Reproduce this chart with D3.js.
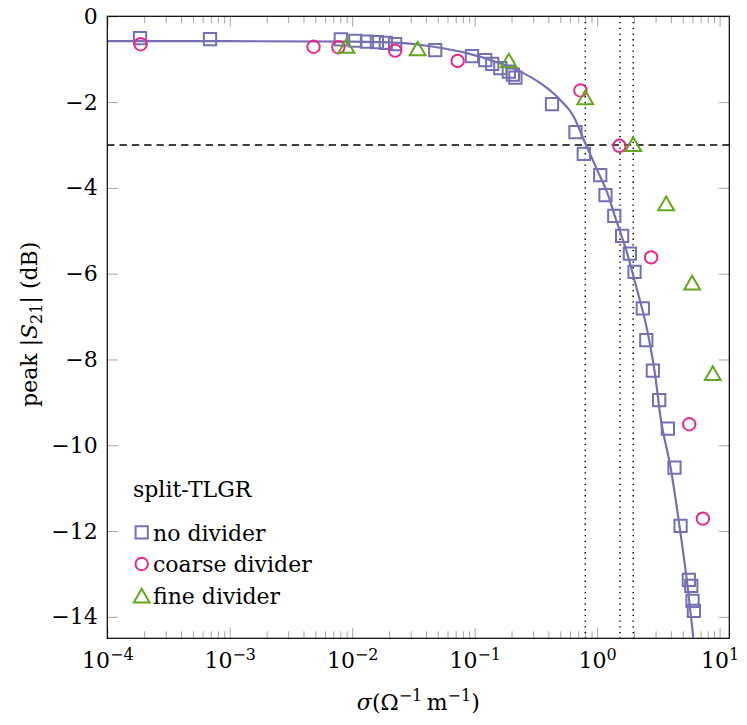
<!DOCTYPE html>
<html>
<head>
<meta charset="utf-8">
<script src="https://cdn.jsdelivr.net/npm/d3@7"></script>
<style>
body { margin: 0; background: #fff; }
svg text { font-family: "DejaVu Serif", serif; fill: #000; }
</style>
</head>
<body>
<div id="chart"></div>
<script>
// values
var seriesNames = ['no divider', 'coarse divider', 'fine divider'];
var seriesColors = ['#7570b3', '#e7298a', '#66a61e'];
var legendTitle = 'split-TLGR';

var noDivSigma = [1.85e-4, 6.9e-4, 8.07e-3, 0.0106, 0.0132, 0.0159, 0.0188, 0.0224, 0.0476, 0.095,
	0.122, 0.139, 0.162, 0.19, 0.205, 0.215, 0.428, 0.665, 0.778, 1.06, 1.17, 1.38, 1.60, 1.85,
	2.02, 2.36, 2.52, 2.85, 3.21, 3.78, 4.28, 4.80, 5.61, 5.87, 6.01, 6.17];
var noDivDb = [-0.51, -0.53, -0.54, -0.57, -0.59, -0.60, -0.62, -0.65, -0.79, -0.93,
	-1.02, -1.11, -1.21, -1.29, -1.36, -1.43, -2.05, -2.70, -3.21, -3.70, -4.17, -4.65, -5.12, -5.53,
	-5.96, -6.81, -7.55, -8.26, -8.95, -9.61, -10.52, -11.88, -13.14, -13.28, -13.63, -13.86];

var coarseSigma = [1.87e-4, 4.83e-3, 7.7e-3, 0.0224, 0.0726, 0.73, 1.52, 2.76, 5.65, 7.3];
var coarseDb = [-0.65, -0.71, -0.72, -0.80, -1.04, -1.73, -3.02, -5.62, -9.51, -11.71];

var fineSigma = [8.97e-3, 0.0342, 0.19, 0.80, 1.97, 3.66, 5.97, 8.8];
var fineDb = [-0.69, -0.75, -1.03, -1.89, -2.98, -4.36, -6.21, -8.32];

// fitted curve, sampled along the drawn line
var fitSigma = [1e-4, 1e-3, 0.01, 0.0245, 0.046, 0.0866, 0.162, 0.236, 0.344, 0.50, 0.644,
	0.80, 1.0, 1.24, 1.37, 1.76, 2.12, 2.56, 2.99, 3.29, 3.97, 4.80, 5.44, 6.10];
var fitDb = [-0.58, -0.58, -0.59, -0.62, -0.71, -0.86, -1.10, -1.29, -1.56, -1.95, -2.34,
	-2.96, -3.58, -4.20, -4.59, -5.53, -6.38, -7.31, -8.40, -9.34, -10.50, -12.06, -13.22, -14.48];

// -3 dB line and the sigma where each series crosses it
var refDb = [-3];
var refSigma = [0.8, 1.54, 1.97];

var xTickExp = [-4, -3, -2, -1, 0, 1];
var yTicks = [0, -2, -4, -6, -8, -10, -12, -14];

var width = 747;
var height = 725;
var margin = {top: 16.3, right: 17.7, bottom: 86.7, left: 107.3};
var plotW = width - margin.left - margin.right;
var plotH = height - margin.top - margin.bottom;

var x = d3.scaleLog().domain([1e-4, 12]).range([0, plotW]);
var y = d3.scaleLinear().domain([-14.5, 0]).range([plotH, 0]);

var svg = d3.select('#chart')
	.append('svg')
	.attr('width', width)
	.attr('height', height)
	.append('g')
	.attr('transform', 'translate(' + margin.left + ',' + margin.top + ')');

svg.append('clipPath').attr('id', 'clip')
	.append('rect').attr('width', plotW).attr('height', plotH);

// ticks
var majorX = xTickExp.map(function(e){ return Math.pow(10, e); });
var minorX = [];
xTickExp.forEach(function(e){
	for (var m = 2; m <= 9; m++) {
		var v = m * Math.pow(10, e);
		if (v < 12) minorX.push(v);
	}
});

function styleAxis(g){
	g.select('.domain').remove();
	g.selectAll('.tick line').attr('stroke', '#a6a6a6').attr('stroke-width', 1);
}

svg.append('g').attr('transform', 'translate(0,' + plotH + ')')
	.call(d3.axisBottom(x).tickValues(minorX).tickSize(-7).tickFormat(''))
	.call(styleAxis);
svg.append('g')
	.call(d3.axisTop(x).tickValues(minorX).tickSize(-7).tickFormat(''))
	.call(styleAxis);
svg.append('g')
	.call(d3.axisTop(x).tickValues(majorX).tickSize(-10.5).tickFormat(''))
	.call(styleAxis);

var xAxis = svg.append('g').attr('transform', 'translate(0,' + plotH + ')')
	.call(d3.axisBottom(x).tickValues(majorX).tickSize(-10.5).tickPadding(0).tickFormat(''))
	.call(styleAxis);
xAxis.selectAll('.tick text').remove();
xAxis.selectAll('.tick').append('text')
	.attr('y', 30)
	.attr('text-anchor', 'middle')
	.style('font-size', '22px')
	.each(function(d){
		var t = d3.select(this);
		t.append('tspan').text('10');
		t.append('tspan')
			.attr('dy', -8.7)
			.style('font-size', '16px')
			.text(String(Math.round(Math.log10(d))).replace('-', '\u2212'));
	});

var yAxis = svg.append('g')
	.call(d3.axisLeft(y).tickValues(yTicks).tickSize(-10.5).tickPadding(9.6))
	.call(styleAxis);
yAxis.selectAll('.tick text')
	.attr('fill', '#000')
	.style('font-size', '22px')
	.style('font-family', '"DejaVu Serif", serif');
svg.append('g').attr('transform', 'translate(' + plotW + ',0)')
	.call(d3.axisRight(y).tickValues(yTicks).tickSize(-10.5).tickFormat(''))
	.call(styleAxis);

// reference lines
svg.selectAll('.hline')
	.data(refDb)
	.enter()
	.append('line')
	.attr('x1', 0).attr('x2', plotW)
	.attr('y1', function(d){ return y(d); })
	.attr('y2', function(d){ return y(d); })
	.attr('stroke', '#000')
	.attr('stroke-width', 1.4)
	.attr('stroke-dasharray', '7.3,5');

svg.selectAll('.vline')
	.data(refSigma)
	.enter()
	.append('line')
	.attr('x1', function(d){ return x(d); })
	.attr('x2', function(d){ return x(d); })
	.attr('y1', 0).attr('y2', plotH)
	.attr('stroke', '#000')
	.attr('stroke-width', 1.5)
	.attr('stroke-dasharray', '1.3,4.4');

// fit line
var fitData = fitSigma.map(function(s, i){ return {s: s, v: fitDb[i]}; });
var line = d3.line()
	.x(function(d){ return x(d.s); })
	.y(function(d){ return y(d.v); })
	.curve(d3.curveMonotoneX);

svg.append('path')
	.datum(fitData)
	.attr('clip-path', 'url(#clip)')
	.attr('d', line)
	.attr('fill', 'none')
	.attr('stroke', seriesColors[0])
	.attr('stroke-width', 2.2);

// markers
var triSize = 108;
var symbols = [
	d3.symbol().type(d3.symbolSquare).size(150),
	d3.symbol().type(d3.symbolCircle).size(122),
	d3.symbol().type(d3.symbolTriangle).size(triSize)
];
var triShift = Math.sqrt(triSize * 4 / Math.sqrt(3)) * Math.sqrt(3) / 2 / 6;
var shifts = [0, 0, triShift];

var series = [
	{sigma: noDivSigma, db: noDivDb},
	{sigma: coarseSigma, db: coarseDb},
	{sigma: fineSigma, db: fineDb}
];

series.forEach(function(sr, k){
	var pts = sr.sigma.map(function(s, i){ return {s: s, v: sr.db[i]}; });
	svg.append('g').selectAll('path')
		.data(pts)
		.enter()
		.append('path')
		.attr('d', symbols[k])
		.attr('transform', function(d){
			return 'translate(' + x(d.s) + ',' + (y(d.v) + shifts[k]) + ')';
		})
		.attr('fill', 'none')
		.attr('stroke', seriesColors[k])
		.attr('stroke-width', 2);
});

// frame
svg.append('rect')
	.attr('width', plotW)
	.attr('height', plotH)
	.attr('fill', 'none')
	.attr('stroke', '#000')
	.attr('stroke-width', 1.2);

// legend
var legend = svg.append('g').attr('transform', 'translate(25.7,480.4)');
legend.append('text')
	.attr('x', 0).attr('y', 0)
	.style('font-size', '22px')
	.text(legendTitle);

var items = legend.selectAll('.legend')
	.data(seriesNames)
	.enter()
	.append('g')
	.attr('class', 'legend')
	.attr('transform', function(d, i){ return 'translate(0,' + (44 + i * 31.7) + ')'; });

items.append('path')
	.attr('d', function(d, i){ return symbols[i](); })
	.attr('transform', function(d, i){ return 'translate(8.7,' + (-8.4 + shifts[i]) + ')'; })
	.attr('fill', 'none')
	.attr('stroke', function(d, i){ return seriesColors[i]; })
	.attr('stroke-width', 2);

items.append('text')
	.attr('x', 20)
	.attr('y', 0)
	.style('font-size', '22px')
	.text(function(d){ return d; });

// axis labels
var xl = svg.append('text')
	.attr('x', plotW / 2)
	.attr('y', plotH + 72)
	.attr('text-anchor', 'middle')
	.style('font-size', '22px');
xl.append('tspan').style('font-style', 'italic').text('\u03c3');
xl.append('tspan').text('(\u03a9');
xl.append('tspan').attr('dy', -9).style('font-size', '16px').text('\u22121');
xl.append('tspan').attr('dy', 9).text('\u2009m');
xl.append('tspan').attr('dy', -9).style('font-size', '16px').text('\u22121');
xl.append('tspan').attr('dy', 9).text(')');

var yl = svg.append('text')
	.attr('transform', 'translate(-70,' + (plotH / 2 - 3) + ') rotate(-90)')
	.attr('text-anchor', 'middle')
	.style('font-size', '22px');
yl.append('tspan').text('peak |');
yl.append('tspan').style('font-style', 'italic').text('S');
yl.append('tspan').attr('dy', 5).style('font-size', '16px').text('21');
yl.append('tspan').attr('dy', -5).text('| (dB)');
</script>
</body>
</html>
